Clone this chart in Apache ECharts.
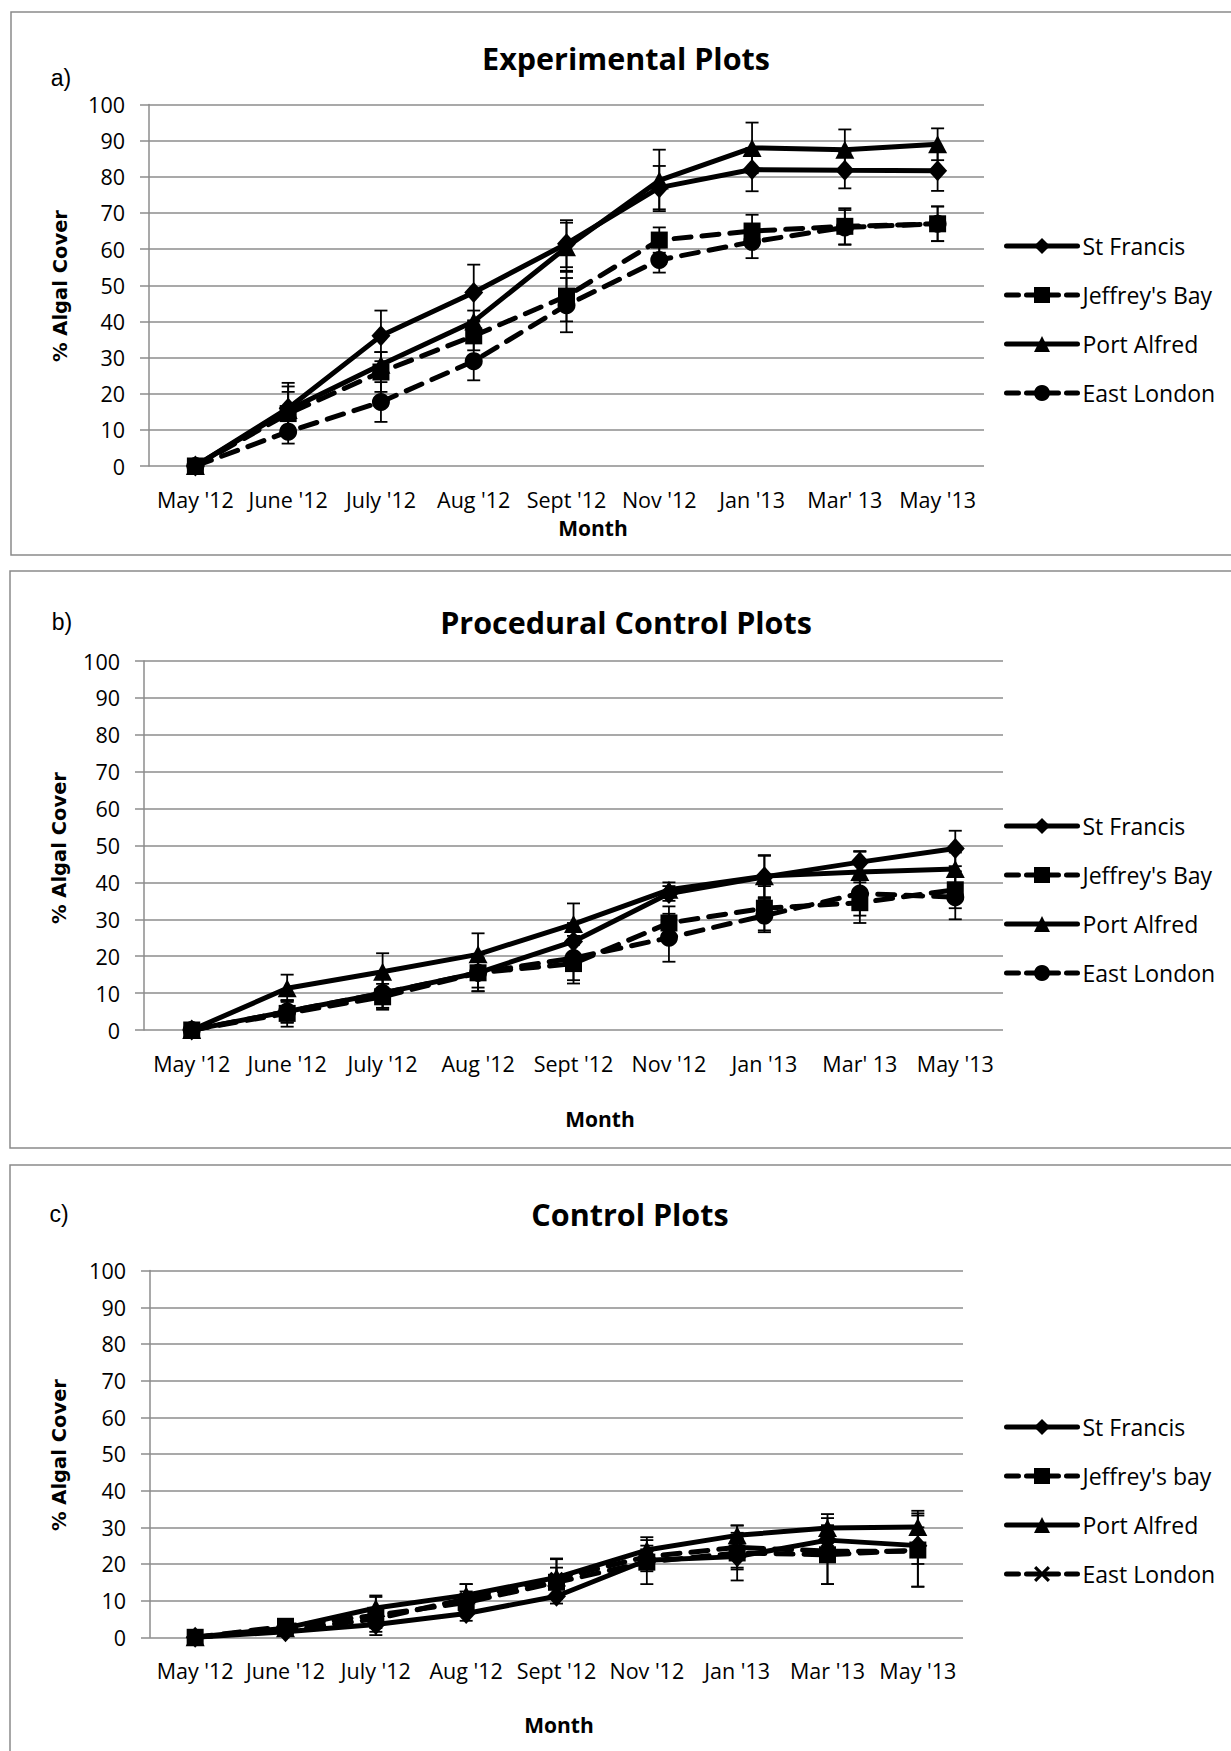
<!DOCTYPE html>
<html>
<head>
<meta charset="utf-8">
<script src="https://cdn.jsdelivr.net/npm/echarts@6/dist/echarts.min.js"></script>
<style>
  html, body { margin: 0; padding: 0; background: #fff; }
  #chart { width: 1231px; height: 1751px; }
</style>
</head>
<body>
<div id="chart"></div>
<script>
// ---------- categories ----------
const monthsAB = ["May '12", "June '12", "July '12", "Aug '12", "Sept '12", "Nov '12", "Jan '13", "Mar' 13", "May '13"];
const monthsC = ["May '12", "June '12", "July '12", "Aug '12", "Sept '12", "Nov '12", "Jan '13", "Mar '13", "May '13"];
const yTicks = [0, 10, 20, 30, 40, 50, 60, 70, 80, 90, 100];

// ---------- a) Experimental Plots ----------
const aStFrancis = [0, 16, 36, 48, 61.5, 77, 82, 81.8, 81.7];
const aJeffreysBay = [0, 14.5, 26, 36, 47, 62.5, 65, 66.3, 67];
const aPortAlfred = [0, 15.5, 28, 40, 60.5, 79, 88, 87.5, 89];
const aEastLondon = [0, 9.5, 17.7, 29, 44.5, 57, 62, 66, 67];
const aStFrancisErr = [0, 7, 7, 7.7, 6.5, 6, 6, 5, 5.6];
const aJeffreysBayErr = [0, 6, 5.5, 4, 7, 3.5, 4.5, 5, 4.8];
const aPortAlfredErr = [0, 6.5, 3.5, 3, 6.8, 8.5, 7, 5.6, 4.4];
const aEastLondonErr = [0, 3.3, 5.5, 5.3, 7.5, 3.5, 4.5, 4.8, 4.8];

// ---------- b) Procedural Control Plots ----------
const bStFrancis = [0, 5, 10, 15.5, 24, 37, 41.5, 45.5, 49.2];
const bJeffreysBay = [0, 4.5, 9, 15.5, 18, 29, 33, 34.5, 38];
const bPortAlfred = [0, 11.3, 15.8, 20.5, 28.7, 38, 41.7, 42.8, 43.6];
const bEastLondon = [0, 5, 10, 15.5, 19.5, 25, 31, 37, 36];
const bStFrancisErr = [0, 3, 4, 4, 5, 2, 5.7, 3, 4.8];
const bJeffreysBayErr = [0, 3.6, 3.5, 5, 5.4, 4.5, 6, 5.5, 5];
const bPortAlfredErr = [0, 3.7, 5, 5.7, 5.6, 2, 5.7, 5.5, 4.5];
const bEastLondonErr = [0, 3, 4, 5, 6, 6.5, 4.5, 6, 6];

// ---------- c) Control Plots ----------
const cStFrancis = [0, 1.5, 3.5, 6.5, 11.2, 21, 22, 26.5, 25];
const cJeffreysBay = [0, 3, 6, 9.5, 15, 20.5, 23, 22.5, 23.8];
const cPortAlfred = [0, 2.5, 8, 11.5, 16.3, 23.8, 27.8, 29.8, 30.1];
const cEastLondon = [0, 2, 5, 10.5, 16, 22, 24.5, 23.5, 23.5];
const cStFrancisErr = [0, 1, 2, 2, 2, 3, 6.5, 4, 5];
const cJeffreysBayErr = [0, 1.5, 5.4, 3, 4, 6, 4, 8, 10];
const cPortAlfredErr = [0, 1, 3, 3, 5, 3.5, 2.7, 3.8, 4.4];
const cEastLondonErr = [0, 1.5, 2.5, 4, 5.5, 3, 6, 9, 9.7];

const seriesNamesAB = ["St Francis", "Jeffrey's Bay", "Port Alfred", "East London"];
const seriesNamesC = ["St Francis", "Jeffrey's bay", "Port Alfred", "East London"];
const panelTitles = ["Experimental Plots", "Procedural Control Plots", "Control Plots"];
const panelTags = ["a)", "b)", "c)"];
const yAxisTitle = "% Algal Cover";
const xAxisTitle = "Month";

// ---------- styling ----------
const BLACK = '#000000';
const GRID_GRAY = '#8c8c8c';
const LABEL_FONT = '"Open Sans", "DejaVu Sans", sans-serif';
const CROSS = 'path://M0,1.4 L1.4,0 L10,8.6 L8.6,10 Z M8.6,0 L10,1.4 L1.4,10 L0,8.6 Z';
const LINE_W = 5;
const DASH = [17, 11];

const panels = [
  { grid: { left: 149, top: 104.5, width: 835, height: 361.5 }, cats: monthsAB, names: seriesNamesAB,
    vals: [aStFrancis, aJeffreysBay, aPortAlfred, aEastLondon],
    errs: [aStFrancisErr, aJeffreysBayErr, aPortAlfredErr, aEastLondonErr], elSymbol: 'circle',
    box: [11, 12, 1300, 543], tag: [61, 78], title: [626, 58], ylab: [60, 286], month: [593, 528], legendTop: 234.5 },
  { grid: { left: 144, top: 661, width: 859, height: 369 }, cats: monthsAB, names: seriesNamesAB,
    vals: [bStFrancis, bJeffreysBay, bPortAlfred, bEastLondon],
    errs: [bStFrancisErr, bJeffreysBayErr, bPortAlfredErr, bEastLondonErr], elSymbol: 'circle',
    box: [10, 571, 1300, 577], tag: [62, 622], title: [626, 622], ylab: [59, 848], month: [600, 1119], legendTop: 814.5 },
  { grid: { left: 150, top: 1270.6, width: 813, height: 366.7 }, cats: monthsC, names: seriesNamesC,
    vals: [cStFrancis, cJeffreysBay, cPortAlfred, cEastLondon],
    errs: [cStFrancisErr, cJeffreysBayErr, cPortAlfredErr, cEastLondonErr], elSymbol: CROSS,
    box: [10, 1165, 1300, 700], tag: [59, 1214], title: [630, 1214], ylab: [59, 1455], month: [559, 1725], legendTop: 1415.5 }
];

const grids = [], xAxes = [], yAxes = [], series = [], legends = [], graphics = [];
const SEP = '\u0001';

panels.forEach((p, pi) => {
  grids.push(Object.assign({ outerBoundsMode: 'none', containLabel: false }, p.grid));
  xAxes.push({
    type: 'category', gridIndex: pi, data: p.cats, boundaryGap: true,
    axisLine: { show: false }, axisTick: { show: false },
    axisLabel: { color: BLACK, fontFamily: LABEL_FONT, fontSize: 21.5, margin: 22, interval: 0 },
    splitLine: { show: false }
  });
  yAxes.push({
    type: 'value', gridIndex: pi, min: yTicks[0], max: yTicks[yTicks.length - 1], interval: 10,
    axisLine: { show: true, lineStyle: { color: GRID_GRAY, width: 1.5 } },
    axisTick: { show: true, length: 9, lineStyle: { color: GRID_GRAY, width: 1.5 } },
    axisLabel: { color: BLACK, fontFamily: LABEL_FONT, fontSize: 21.5, margin: 24 },
    splitLine: { show: true, lineStyle: { color: GRID_GRAY, width: 1.5 } }
  });

  const symbols = ['diamond', 'rect', 'triangle', p.elSymbol];
  const sizes = [[19, 21], 17, [19, 18], pi === 2 ? 14 : 18];
  const dashed = [false, true, false, true];
  const legendData = [];
  p.names.forEach((name, si) => {
    const sname = pi + SEP + name;
    series.push({
      type: 'line', name: sname, xAxisIndex: pi, yAxisIndex: pi,
      data: p.vals[si], symbol: symbols[si], symbolSize: sizes[si], showSymbol: true,
      lineStyle: { color: BLACK, width: LINE_W, type: dashed[si] ? DASH : 'solid', cap: 'round' },
      itemStyle: { color: BLACK, borderColor: BLACK, borderWidth: 0 },
      emphasis: { disabled: true }, animation: false, z: 3
    });
    series.push({
      type: 'custom', name: sname + ' error', xAxisIndex: pi, yAxisIndex: pi,
      data: p.vals[si].map((v, i) => [i, v, p.errs[si][i]]),
      renderItem: function (params, api) {
        const x = api.value(0), y = api.value(1), e = api.value(2);
        if (!e) return null;
        const hi = api.coord([x, y + e]);
        const lo = api.coord([x, y - e]);
        const cw = 6.5;
        const st = { stroke: BLACK, lineWidth: 1.8 };
        return {
          type: 'group', children: [
            { type: 'line', shape: { x1: hi[0], y1: hi[1], x2: lo[0], y2: lo[1] }, style: st },
            { type: 'line', shape: { x1: hi[0] - cw, y1: hi[1], x2: hi[0] + cw, y2: hi[1] }, style: st },
            { type: 'line', shape: { x1: lo[0] - cw, y1: lo[1], x2: lo[0] + cw, y2: lo[1] }, style: st }
          ]
        };
      },
      silent: true, animation: false, z: 4
    });
    legendData.push({
      name: sname,
      lineStyle: { color: BLACK, width: LINE_W, type: dashed[si] ? [12, 8] : 'solid' }
    });
  });

  legends.push({
    orient: 'vertical', left: 1004, top: p.legendTop, padding: 0,
    itemWidth: 71, itemHeight: 20, itemGap: 26,
    data: legendData,
    formatter: function (n) { return n.split(SEP)[1]; },
    lineStyle: { width: LINE_W },
    textStyle: { color: BLACK, fontFamily: LABEL_FONT, fontSize: 23 },
    selectedMode: false
  });

  graphics.push({ type: 'rect', shape: { x: p.box[0], y: p.box[1], width: p.box[2], height: p.box[3] },
    style: { fill: 'none', stroke: '#8a8a8a', lineWidth: 1.5 }, z: -1 });
  graphics.push({ type: 'text', x: p.tag[0], y: p.tag[1],
    style: { text: panelTags[pi], fill: BLACK, fontSize: 23, fontFamily: '"Liberation Sans", Arial, sans-serif', align: 'center', verticalAlign: 'middle', textAlign: 'center', textVerticalAlign: 'middle' } });
  graphics.push({ type: 'text', x: p.title[0], y: p.title[1],
    style: { text: panelTitles[pi], fill: BLACK, fontSize: 30.5, fontWeight: 'bold', fontFamily: LABEL_FONT, align: 'center', verticalAlign: 'middle', textAlign: 'center', textVerticalAlign: 'middle' } });
  graphics.push({ type: 'text', x: p.ylab[0], y: p.ylab[1], rotation: Math.PI / 2,
    style: { text: yAxisTitle, fill: BLACK, fontSize: 19.5, fontWeight: 'bold', fontFamily: '"DejaVu Sans", Verdana, sans-serif', align: 'center', verticalAlign: 'middle', textAlign: 'center', textVerticalAlign: 'middle' } });
  graphics.push({ type: 'text', x: p.month[0], y: p.month[1],
    style: { text: xAxisTitle, fill: BLACK, fontSize: 21, fontWeight: 'bold', fontFamily: LABEL_FONT, align: 'center', verticalAlign: 'middle', textAlign: 'center', textVerticalAlign: 'middle' } });
});

const chart = echarts.init(document.getElementById('chart'), null, { renderer: 'svg', width: 1231, height: 1751 });
chart.setOption({
  backgroundColor: '#ffffff',
  animation: false,
  grid: grids,
  xAxis: xAxes,
  yAxis: yAxes,
  legend: legends,
  series: series,
  graphic: graphics
});
</script>
</body>
</html>
